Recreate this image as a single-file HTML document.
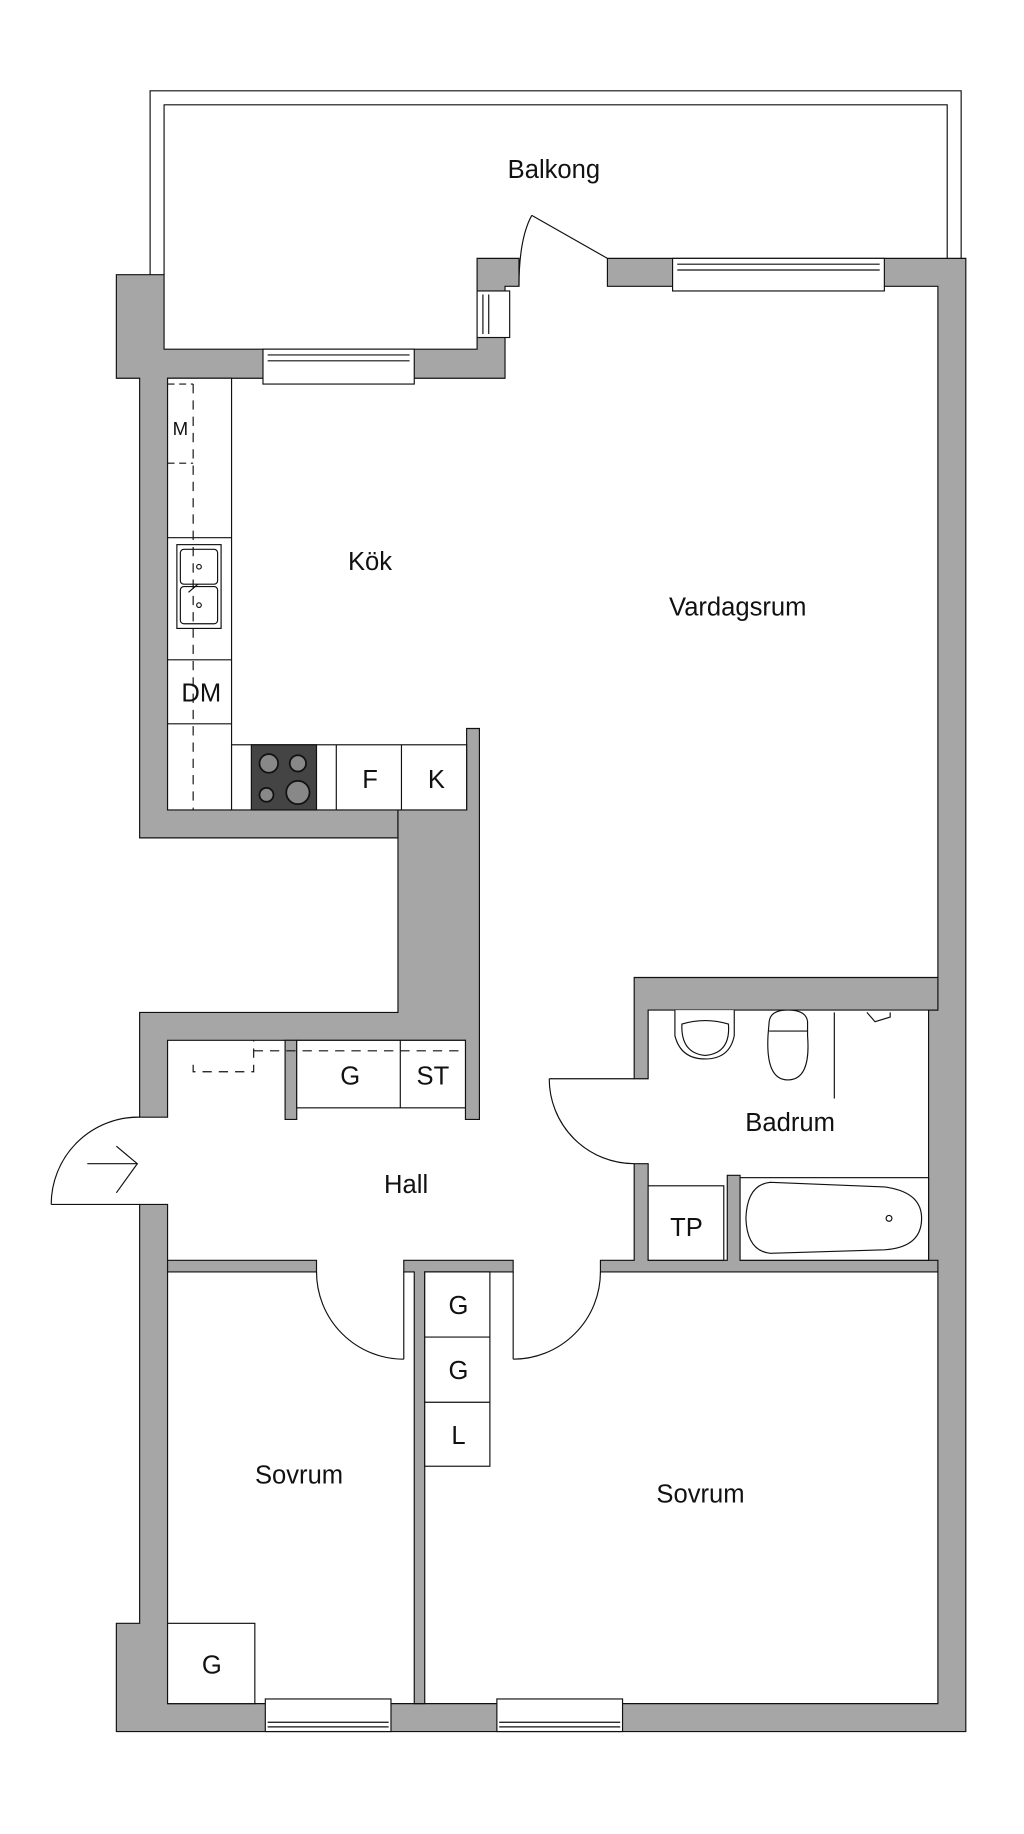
<!DOCTYPE html>
<html><head><meta charset="utf-8"><style>
html,body{margin:0;padding:0;background:#fff}
svg{display:block}
text{font-family:"Liberation Sans",sans-serif;fill:#111}
</style></head><body>
<svg width="1024" height="1834" viewBox="0 0 880 1576" xmlns="http://www.w3.org/2000/svg">
<g fill="none" stroke="#111" stroke-width="1">
<!-- balcony rail -->
<polyline points="129,236 129,78 826,78 826,222"/>
<polyline points="141,236 141,90 814,90 814,222"/>
</g>
<g fill="#a6a6a6" stroke="#111" stroke-width="1">
<!-- top left block + kitchen top wall -->
<polygon points="100,236 141,236 141,300 410,300 410,222 446,222 446,246 434,246 434,325 144,325 144,696 342,696 342,720 120,720 120,325 100,325"/>
<!-- top wall right part -->
<polygon points="522,222 830,222 830,1488 100,1488 100,1395 120,1395 120,1035 144,1035 144,1464 806,1464 806,1093 798,1093 798,868 806,868 806,246 522,246"/>
<!-- kitchen/vardag partition and block -->
<polygon points="401,626 412,626 412,894 412,962 400,962 400,894 144,894 144,960 120,960 120,870 342,870 342,720 342,696 401,696"/>
<polygon points="245,894 255,894 255,962 245,962"/>
<!-- bath walls -->
<polygon points="545,840 806,840 806,868 557,868 557,927 545,927"/>
<polygon points="545,1000 557,1000 557,1083 625,1083 625,1010 636,1010 636,1083 806,1083 806,1093 516,1093 516,1083 545,1083"/>
<!-- hall bottom -->
<polygon points="144,1083 272,1083 272,1093 144,1093"/>
<polygon points="347,1083 441,1083 441,1093 365,1093 365,1464 356,1464 356,1093 347,1093"/>
</g>
<g fill="#fff" stroke="#111" stroke-width="1">
<!-- windows -->
<rect x="226" y="300" width="130" height="30"/><line x1="230" y1="305" x2="352" y2="305"/><line x1="230" y1="310" x2="352" y2="310"/>
<rect x="578" y="222" width="182" height="28"/><line x1="582" y1="227" x2="756" y2="227"/><line x1="582" y1="232" x2="756" y2="232"/>
<rect x="410" y="250" width="28" height="40"/><line x1="415" y1="253" x2="415" y2="287"/><line x1="420" y1="253" x2="420" y2="287"/>
<rect x="228" y="1460" width="108" height="28"/><line x1="230" y1="1480" x2="334" y2="1480"/><line x1="230" y1="1484" x2="334" y2="1484"/>
<rect x="427" y="1460" width="108" height="28"/><line x1="429" y1="1480" x2="533" y2="1480"/><line x1="429" y1="1484" x2="533" y2="1484"/>
<!-- kitchen counters -->
<rect x="144" y="325" width="55" height="371"/>
<line x1="144" y1="462" x2="199" y2="462"/><line x1="144" y1="567" x2="199" y2="567"/><line x1="144" y1="622" x2="199" y2="622"/>
<rect x="199" y="640" width="202" height="56"/>
<line x1="289" y1="640" x2="289" y2="696"/><line x1="345" y1="640" x2="345" y2="696"/>
<!-- sink -->
<rect x="152" y="468" width="38" height="72"/><rect x="155" y="472" width="32" height="30" rx="3"/><rect x="155" y="504" width="32" height="32" rx="3"/>
<circle cx="171" cy="487" r="2"/><circle cx="171" cy="520" r="2"/><line x1="162" y1="509" x2="170" y2="502"/>
<!-- hall closets -->
<rect x="255" y="894" width="145" height="58"/><line x1="344" y1="894" x2="344" y2="952"/>
<rect x="365" y="1093" width="56" height="167"/><line x1="365" y1="1149" x2="421" y2="1149"/><line x1="365" y1="1205" x2="421" y2="1205"/>
<rect x="144" y="1395" width="75" height="69"/>
<!-- bath fixtures -->
<rect x="557" y="1019" width="65" height="64"/>
<rect x="636" y="1012" width="162" height="71"/>
<path d="M662,1016 L760,1020 Q792,1024 792,1047 Q792,1072 760,1074 L662,1077 Q642,1075 641,1047 Q642,1018 662,1016 Z"/>
<circle cx="764" cy="1047" r="2.5"/>
<path d="M580,868 L580,890 Q585,910 606,910 Q627,910 631,890 L631,868"/>
<path d="M586,880 Q606,874 626,880 Q628,905 606,907 Q585,905 586,880 Z"/>
<path d="M661,878 Q662,868 677,868 Q693,868 694,878 L694,890 Q697,928 677,928 Q658,928 660,890 Z"/><line x1="661" y1="886" x2="694" y2="886"/>
<line x1="717" y1="870" x2="717" y2="944"/>
</g>
<g fill="#444" stroke="#111">
<rect x="216" y="640" width="56" height="56"/>
</g>
<g fill="#888" stroke="#111" stroke-width="1.5">
<circle cx="231" cy="656" r="8"/><circle cx="256" cy="656" r="7"/><circle cx="229" cy="683" r="6"/><circle cx="256" cy="681" r="10"/>
</g>
<g fill="none" stroke="#111" stroke-width="1">
<!-- dashed -->
<line x1="166" y1="330" x2="166" y2="696" stroke-dasharray="8,6"/>
<line x1="144" y1="398" x2="166" y2="398" stroke-dasharray="6,4"/>
<line x1="144" y1="330" x2="166" y2="330" stroke-dasharray="6,4"/>
<line x1="218" y1="903" x2="400" y2="903" stroke-dasharray="8,6"/>
<polyline points="166,915 166,921 218,921 218,894" stroke-dasharray="8,6"/>
<!-- doors -->
<line x1="522" y1="222" x2="457" y2="185"/><path d="M457,185 Q446,205 446,246"/>
<line x1="44" y1="1035" x2="120" y2="1035"/><path d="M120,960 A75,75 0 0 0 44,1035"/>
<polyline points="100,985 118,1000 100,1025"/><line x1="75" y1="1000" x2="118" y2="1000"/>
<line x1="472" y1="927" x2="545" y2="927"/><path d="M472,927 A73,73 0 0 0 545,1000"/>
<line x1="347" y1="1093" x2="347" y2="1168"/><path d="M272,1093 A75,75 0 0 0 347,1168"/>
<line x1="441" y1="1093" x2="441" y2="1168"/><path d="M516,1093 A75,75 0 0 1 441,1168"/>
<path d="M745,870 L752,878 L765,874 L765,870" />
</g>
<g font-size="22">
<text x="476" y="153" text-anchor="middle">Balkong</text>
<text x="318" y="490" text-anchor="middle">Kök</text>
<text x="634" y="529" text-anchor="middle">Vardagsrum</text>
<text x="679" y="972" text-anchor="middle">Badrum</text>
<text x="349" y="1025" text-anchor="middle">Hall</text>
<text x="257" y="1275" text-anchor="middle">Sovrum</text>
<text x="602" y="1291" text-anchor="middle">Sovrum</text>
<text x="173" y="603" text-anchor="middle">DM</text>
<text x="318" y="677" text-anchor="middle">F</text>
<text x="375" y="677" text-anchor="middle">K</text>
<text x="301" y="932" text-anchor="middle">G</text>
<text x="372" y="932" text-anchor="middle">ST</text>
<text x="590" y="1062" text-anchor="middle">TP</text>
<text x="394" y="1129" text-anchor="middle">G</text>
<text x="394" y="1185" text-anchor="middle">G</text>
<text x="394" y="1241" text-anchor="middle">L</text>
<text x="182" y="1438" text-anchor="middle">G</text>
<text x="155" y="374" text-anchor="middle" font-size="16">M</text>
</g>
</svg>
</body></html>
